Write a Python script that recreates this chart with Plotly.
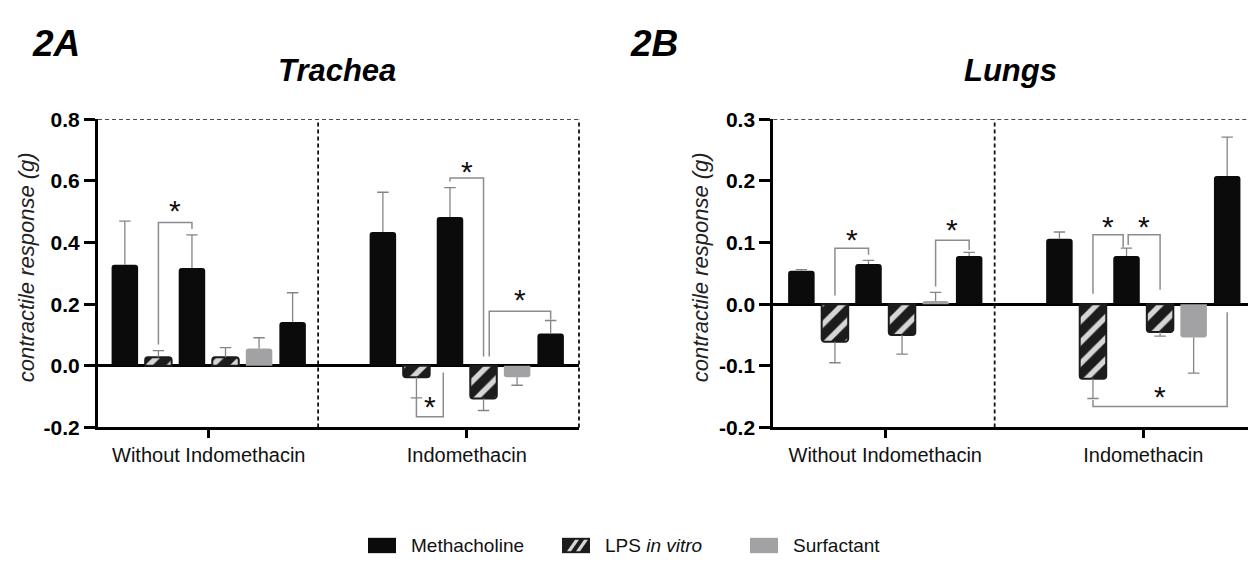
import plotly.graph_objects as go

# ---------------- data ----------------
groups = ["Without Indomethacin", "Indomethacin"]
slot_types = ["Methacholine", "LPS", "Methacholine", "LPS", "Surfactant", "Methacholine"]

trachea_mean = [0.328, 0.028, 0.317, 0.028, 0.056, 0.142,
                0.434, -0.037, 0.483, -0.106, -0.037, 0.105]
trachea_sem = [0.141, 0.021, 0.108, 0.031, 0.035, 0.095,
               0.129, 0.067, 0.095, 0.039, 0.026, 0.042]

lungs_mean = [0.054, -0.061, 0.065, -0.050, 0.005, 0.078,
              0.106, -0.121, 0.078, -0.045, -0.054, 0.208]
lungs_sem = [0.002, 0.034, 0.006, 0.031, 0.014, 0.006,
             0.011, 0.032, 0.013, 0.007, 0.058, 0.063]

trachea_ticks = [-0.2, 0.0, 0.2, 0.4, 0.6, 0.8]
trachea_ticktext = ["-0.2", "0.0", "0.2", "0.4", "0.6", "0.8"]
lungs_ticks = [-0.2, -0.1, 0.0, 0.1, 0.2, 0.3]
lungs_ticktext = ["-0.2", "-0.1", "0.0", "0.1", "0.2", "0.3"]

# significance brackets: (left bar, right bar, left shift, right shift,
#                         left leg end, right leg end, bracket level, star level)
trachea_brackets = [
    (1, 2, 0.0, 0.0, 0.069, 0.444, 0.465, 0.524),
    (8, 9, 0.0, 0.0, 0.598, 0.030, 0.609, 0.650),
    (9, 11, 0.17, 0.0, 0.030, 0.150, 0.177, 0.235),
    (7, 8, 0.0, -0.20, -0.104, -0.022, -0.165, -0.112),
]
lungs_brackets = [
    (1, 2, 0.0, 0.0, 0.014, 0.080, 0.0907, 0.114),
    (4, 5, 0.0, 0.0, 0.0285, 0.088, 0.1037, 0.130),
    (7, 8, 0.0, -0.10, 0.017, 0.0918, 0.1125, 0.135),
    (8, 9, 0.05, 0.0, 0.096, 0.0233, 0.1125, 0.135),
    (7, 11, 0.0, 0.0, -0.1555, -0.013, -0.166, -0.140),
]

legend_names = ["Methacholine", "LPS <i>in vitro</i>", "Surfactant"]

# ---------------- styling / layout constants ----------------
W, H = 1248, 568
GROUP_STEP = len(slot_types) + 1.69
BAR_W = 0.79
CAP = 0.17
BLACK = "#0b0b0b"
HATCH_BG = "#1c1c1c"
HATCH_FG = "#d6d6d6"
GRAY = "#a2a2a4"
ERR = "#858585"
BRK = "#8c8c8c"
FONT = "Liberation Sans, Arial, sans-serif"


def px_x(p):
    return p / W


def px_y(p):
    return 1 - p / H


positions = [g * GROUP_STEP + s for g in range(len(groups)) for s in range(len(slot_types))]
types = slot_types * len(groups)
group_centers = [g * GROUP_STEP + (len(slot_types) - 1) / 2 for g in range(len(groups))]
divider_x = positions[len(slot_types) - 1] + 0.76

fig = go.Figure()

style = {
    "Methacholine": dict(color=BLACK, line=dict(width=0, color=BLACK)),
    "LPS": dict(color=HATCH_BG, line=dict(width=2, color=HATCH_BG),
                pattern=dict(shape="/", size=15, solidity=0.36, fgcolor=HATCH_FG,
                             bgcolor=HATCH_BG, fillmode="replace")),
    "Surfactant": dict(color=GRAY, line=dict(width=0, color=GRAY)),
}


def add_panel(means, sems, xa, ya):
    for t in ["Methacholine", "LPS", "Surfactant"]:
        xs = [p for p, tt in zip(positions, types) if tt == t]
        ys = [m for m, tt in zip(means, types) if tt == t]
        fig.add_trace(go.Bar(x=xs, y=ys, width=BAR_W, marker=dict(cornerradius=3, **style[t]),
                             showlegend=False, xaxis=xa, yaxis=ya, hoverinfo="skip"))
    ex, ey = [], []
    for p, m, s in zip(positions, means, sems):
        end = m + s if m >= 0 else m - s
        ex += [p, p, None, p - CAP, p + CAP, None]
        ey += [m, end, None, end, end, None]
    fig.add_trace(go.Scatter(x=ex, y=ey, mode="lines", line=dict(color=ERR, width=1.3),
                             showlegend=False, xaxis=xa, yaxis=ya, hoverinfo="skip"))


add_panel(trachea_mean, trachea_sem, "x", "y")
add_panel(lungs_mean, lungs_sem, "x2", "y2")

shapes = []
annotations = []


def note(x, y, text, size, xref="paper", yref="paper", **kw):
    d = dict(x=x, y=y, xref=xref, yref=yref, text=text, showarrow=False,
             xanchor=kw.pop("xanchor", "center"), yanchor=kw.pop("yanchor", "middle"),
             font=dict(family=FONT, size=size, color=kw.pop("color", "#000")))
    d.update(kw)
    annotations.append(d)


def add_brackets(brackets, xr, yr):
    for (i, j, di, dj, yl, yrr, ytop, ystar) in brackets:
        xl = positions[i] + di
        xrr = positions[j] + dj
        shapes.append(dict(type="path", xref=xr, yref=yr,
                           path=f"M{xl},{yl} L{xl},{ytop} L{xrr},{ytop} L{xrr},{yrr}",
                           line=dict(color=BRK, width=1.5)))
        note((xl + xrr) / 2, ystar, "*", 30, xref=xr, yref=yr, yshift=-6, color="#111")


add_brackets(trachea_brackets, "x", "y")
add_brackets(lungs_brackets, "x2", "y2")

DASH = dict(color="#111", width=1.8, dash="4px,3px")
shapes += [
    dict(type="line", xref="x domain", yref="y", x0=0, x1=1, y0=0.8, y1=0.8, line=DASH),
    dict(type="line", xref="x domain", yref="y domain", x0=1, x1=1, y0=0, y1=1, line=DASH),
    dict(type="line", xref="x", yref="y domain", x0=divider_x, x1=divider_x, y0=0, y1=1, line=DASH),
    dict(type="line", xref="x2 domain", yref="y2", x0=0, x1=1, y0=0.3, y1=0.3, line=DASH),
    dict(type="line", xref="x2", yref="y2 domain", x0=divider_x, x1=divider_x, y0=0, y1=1, line=DASH),
]

# titles
note(px_x(56), px_y(33), "<b><i>2A</i></b>", 37)
note(px_x(337), px_y(61), "<b><i>Trachea</i></b>", 31)
note(px_x(654), px_y(33), "<b><i>2B</i></b>", 37)
note(px_x(1010), px_y(61), "<b><i>Lungs</i></b>", 31)
note(px_x(26), px_y(266), "<i>contractile response (g)</i>", 22, textangle=-90, color="#222")
note(px_x(700), px_y(266), "<i>contractile response (g)</i>", 22, textangle=-90, color="#222")

# legend (drawn manually)
LEG_Y0, LEG_Y1 = 548, 564
leg_x = [368, 562, 750]
for k, (lx, name) in enumerate(zip(leg_x, legend_names)):
    col = [BLACK, HATCH_BG, GRAY][k]
    shapes.append(dict(type="rect", xref="paper", yref="paper", x0=px_x(lx), x1=px_x(lx + 28),
                       y0=px_y(LEG_Y1), y1=px_y(LEG_Y0), fillcolor=col, line=dict(width=0)))
    if k == 1:
        for off in (0, 9):
            a = lx + 5 + off
            path = (f"M{px_x(a)},{px_y(LEG_Y1 - 2)} L{px_x(a + 4)},{px_y(LEG_Y1 - 2)} "
                    f"L{px_x(a + 12)},{px_y(LEG_Y0 + 2)} L{px_x(a + 8)},{px_y(LEG_Y0 + 2)} Z")
            shapes.append(dict(type="path", xref="paper", yref="paper", path=path,
                               fillcolor=HATCH_FG, line=dict(width=0)))
    note(px_x(lx + 41), px_y((LEG_Y0 + LEG_Y1) / 2), name, 19, xanchor="left", color="#111")

Y0, Y1 = px_y(433), px_y(111.7)
common_x = dict(showgrid=False, zeroline=False, showline=True, linewidth=3, linecolor="#000",
                ticks="outside", ticklen=8, tickwidth=3, tickcolor="#000",
                tickvals=group_centers, ticktext=groups,
                tickfont=dict(family=FONT, size=20, color="#111"), fixedrange=True)
common_y = dict(showgrid=False, zeroline=True, zerolinewidth=3, zerolinecolor="#000",
                showline=True, linewidth=3, linecolor="#000", ticks="outside", ticklen=11,
                tickwidth=3, tickcolor="#000", domain=[Y0, Y1],
                tickfont=dict(family=FONT, size=21, color="#000", weight="bold"), fixedrange=True)

unit = (579 - 98) / (positions[-1] + 0.845 + 0.80)
fig.update_layout(
    width=W, height=H, margin=dict(l=0, r=0, t=0, b=0),
    paper_bgcolor="white", plot_bgcolor="white", barmode="overlay",
    xaxis=dict(domain=[px_x(98), px_x(579)], range=[-0.80, positions[-1] + 0.845], anchor="y", **common_x),
    yaxis=dict(range=[-0.2, 0.8], tickvals=trachea_ticks, ticktext=trachea_ticktext, anchor="x", **common_y),
    xaxis2=dict(domain=[px_x(773.3), 1.0],
                range=[-0.837, -0.837 + (W - 773.3) / unit], anchor="y2", **common_x),
    yaxis2=dict(range=[-0.2, 0.3], tickvals=lungs_ticks, ticktext=lungs_ticktext, anchor="x2", **common_y),
    shapes=shapes, annotations=annotations,
)

fig.write_html("out.html", config={"displayModeBar": False},
               post_script="document.body.style.margin='0';document.body.style.padding='0';")
